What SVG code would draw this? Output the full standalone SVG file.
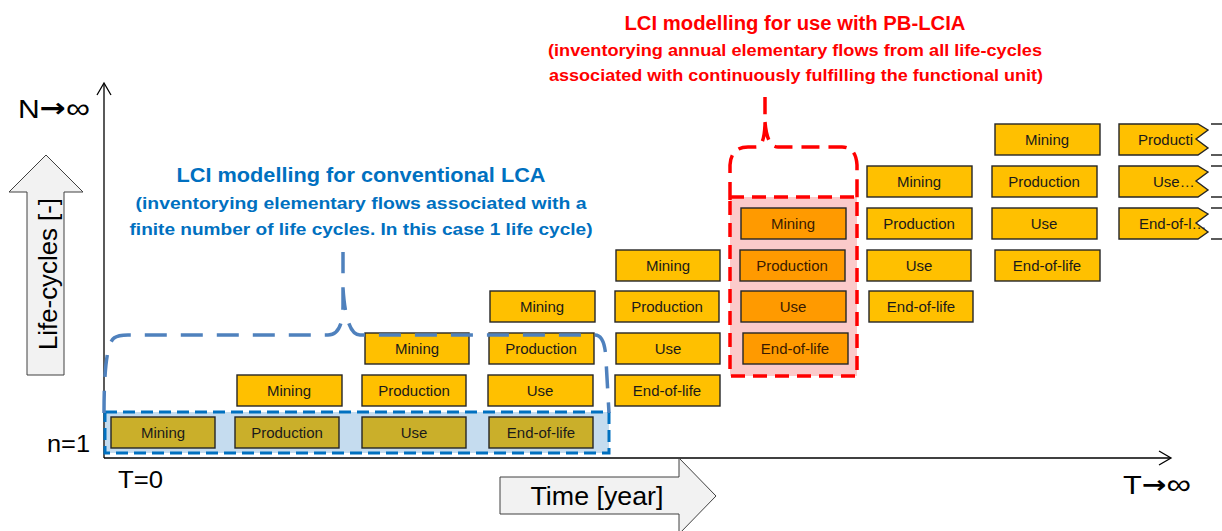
<svg xmlns="http://www.w3.org/2000/svg" width="1222" height="531" viewBox="0 0 1222 531">
<style>
.bx rect,.bx path{stroke:#262626;stroke-width:1.4}
.y{fill:#FFC000}
.o{fill:#CAAF2A}
.r{fill:#FF9A00}
.lb{font-family:"Liberation Sans",Arial,sans-serif;font-size:15px;fill:#1a1a1a;text-anchor:middle}
.lr{font-family:"Liberation Sans",Arial,sans-serif;font-size:15px;fill:#3a1a00;text-anchor:middle}
.ax{font-family:"Liberation Sans",Arial,sans-serif;fill:#000}
.arw{font-family:"DejaVu Sans",sans-serif;font-weight:bold}
.tb{font-family:"Liberation Sans",Arial,sans-serif;font-weight:bold;fill:#0070C0;text-anchor:middle}
.tr{font-family:"Liberation Sans",Arial,sans-serif;font-weight:bold;fill:#FF0000;text-anchor:middle}
.stub{stroke:#262626;stroke-width:1.4}
</style>
<rect width="1222" height="531" fill="#fff"/>

<!-- highlight backgrounds -->
<g id="blue-region">
<rect x="105" y="412" width="504" height="41" fill="#C5DCEF"/>
</g>
<g id="red-region">
<rect x="730" y="197" width="127" height="179" fill="#FBCACA"/>
</g>

<!-- axes -->
<g id="axes" fill="none" stroke="#000" stroke-width="1.3">
<path d="M104,458 V84"/>
<path d="M97,95 L104,83 L111,95"/>
<path d="M104,458 H1170"/>
<path d="M1159,451 L1171,458 L1159,465"/>
</g>

<!-- axis arrows -->
<g id="life-cycles-arrow">
<path d="M46,155 L83,192 H64 V375 H27 V192 H9 Z" fill="#F2F2F2" stroke="#404040" stroke-width="1"/>
<text class="ax" x="0" y="0" font-size="25" text-anchor="middle" transform="translate(57,274) rotate(-90)" textLength="152" lengthAdjust="spacingAndGlyphs">Life-cycles [-]</text>
</g>
<g id="time-arrow">
<path d="M500,477 H679 V458 L716,496 L679,534 V514 H500 Z" fill="#F2F2F2" stroke="#404040" stroke-width="1"/>
<text class="ax" x="597" y="505" font-size="25" text-anchor="middle" textLength="133" lengthAdjust="spacingAndGlyphs">Time [year]</text>
</g>

<g id="axis-labels">
<text class="ax" x="18" y="118" font-size="25" textLength="72" lengthAdjust="spacingAndGlyphs">N<tspan class="arw" font-size="26" dy="-1">→</tspan><tspan dy="1" font-size="28">∞</tspan></text>
<text class="ax" x="47" y="452" font-size="23" textLength="43" lengthAdjust="spacingAndGlyphs">n=1</text>
<text class="ax" x="118" y="488" font-size="23" textLength="45" lengthAdjust="spacingAndGlyphs">T=0</text>
<text class="ax" x="1123" y="494" font-size="25" textLength="68" lengthAdjust="spacingAndGlyphs">T<tspan class="arw" font-size="24" dy="-1">→</tspan><tspan dy="1" font-size="28">∞</tspan></text>
</g>

<!-- lifecycle 1 (olive) -->
<g id="lc1-mining" class="bx"><rect class="o" x="111" y="417" width="104" height="31"/><text class="lb" x="163" y="438">Mining</text></g>
<g id="lc1-production" class="bx"><rect class="o" x="235" y="417" width="104" height="31"/><text class="lb" x="287" y="438">Production</text></g>
<g id="lc1-use" class="bx"><rect class="o" x="362" y="417" width="104" height="31"/><text class="lb" x="414" y="438">Use</text></g>
<g id="lc1-eol" class="bx"><rect class="o" x="489" y="417" width="104" height="31"/><text class="lb" x="541" y="438">End-of-life</text></g>

<!-- lifecycle 2 -->
<g id="lc2-mining" class="bx"><rect class="y" x="237" y="375" width="105" height="31"/><text class="lb" x="289" y="396">Mining</text></g>
<g id="lc2-production" class="bx"><rect class="y" x="362" y="375" width="104" height="31"/><text class="lb" x="414" y="396">Production</text></g>
<g id="lc2-use" class="bx"><rect class="y" x="488" y="375" width="105" height="31"/><text class="lb" x="540" y="396">Use</text></g>
<g id="lc2-eol" class="bx"><rect class="y" x="615" y="375" width="105" height="31"/><text class="lb" x="667" y="396">End-of-life</text></g>

<!-- lifecycle 3 -->
<g id="lc3-mining" class="bx"><rect class="y" x="365" y="333" width="104" height="31"/><text class="lb" x="417" y="354">Mining</text></g>
<g id="lc3-production" class="bx"><rect class="y" x="489" y="333" width="105" height="31"/><text class="lb" x="541" y="354">Production</text></g>
<g id="lc3-use" class="bx"><rect class="y" x="616" y="333" width="104" height="31"/><text class="lb" x="668" y="354">Use</text></g>
<g id="lc3-eol" class="bx"><rect class="r" x="743" y="333" width="105" height="31"/><text class="lr" x="795" y="354">End-of-life</text></g>

<!-- lifecycle 4 -->
<g id="lc4-mining" class="bx"><rect class="y" x="490" y="291" width="105" height="31"/><text class="lb" x="542" y="312">Mining</text></g>
<g id="lc4-production" class="bx"><rect class="y" x="615" y="291" width="104" height="31"/><text class="lb" x="667" y="312">Production</text></g>
<g id="lc4-use" class="bx"><rect class="r" x="741" y="291" width="105" height="31"/><text class="lr" x="793" y="312">Use</text></g>
<g id="lc4-eol" class="bx"><rect class="y" x="869" y="291" width="104" height="31"/><text class="lb" x="921" y="312">End-of-life</text></g>

<!-- lifecycle 5 -->
<g id="lc5-mining" class="bx"><rect class="y" x="616" y="250" width="104" height="31"/><text class="lb" x="668" y="271">Mining</text></g>
<g id="lc5-production" class="bx"><rect class="r" x="740" y="250" width="105" height="31"/><text class="lr" x="792" y="271">Production</text></g>
<g id="lc5-use" class="bx"><rect class="y" x="867" y="250" width="104" height="31"/><text class="lb" x="919" y="271">Use</text></g>
<g id="lc5-eol" class="bx"><rect class="y" x="995" y="250" width="105" height="31"/><text class="lb" x="1047" y="271">End-of-life</text></g>

<!-- lifecycle 6 -->
<g id="lc6-mining" class="bx"><rect class="r" x="741" y="208" width="105" height="31"/><text class="lr" x="793" y="229">Mining</text></g>
<g id="lc6-production" class="bx"><rect class="y" x="867" y="208" width="105" height="31"/><text class="lb" x="919" y="229">Production</text></g>
<g id="lc6-use" class="bx"><rect class="y" x="992" y="208" width="105" height="31"/><text class="lb" x="1044" y="229">Use</text></g>
<g id="lc6-eol" class="bx"><path class="y" d="M1119,208 H1198 L1208,214 L1196,223 L1208,232 L1198,239 H1119 Z"/><text class="lb" x="1139" y="229" style="text-anchor:start">End-of-l…</text></g>

<!-- lifecycle 7 -->
<g id="lc7-mining" class="bx"><rect class="y" x="867" y="166" width="105" height="31"/><text class="lb" x="919" y="187">Mining</text></g>
<g id="lc7-production" class="bx"><rect class="y" x="992" y="166" width="105" height="31"/><text class="lb" x="1044" y="187">Production</text></g>
<g id="lc7-use" class="bx"><path class="y" d="M1119,166 H1198 L1208,172 L1196,181 L1208,190 L1198,197 H1119 Z"/><text class="lb" x="1153" y="187" style="text-anchor:start">Use…</text></g>

<!-- lifecycle 8 -->
<g id="lc8-mining" class="bx"><rect class="y" x="995" y="124" width="105" height="31"/><text class="lb" x="1047" y="145">Mining</text></g>
<g id="lc8-production" class="bx"><path class="y" d="M1119,124 H1198 L1208,130 L1196,139 L1208,148 L1198,155 H1119 Z"/><text class="lb" x="1138" y="145" style="text-anchor:start">Producti</text></g>

<g id="lc9-stubs">
<path class="stub" d="M1211,124 H1222 M1211,155 H1222 M1211,166 H1222 M1211,197 H1222 M1211,208 H1222 M1211,239 H1222"/>
</g>

<!-- connectors / brackets -->
<g id="connectors" fill="none">
<rect x="105" y="412" width="504" height="41" stroke="#0070C0" stroke-width="3" stroke-dasharray="12,6"/>
<path d="M104,413 Q104,345 114,338 Q118,335 128,335 H328 Q343,335 343,305 V252 M343,288 Q346,335 360,335 H595 Q605,335 606,360 L609,413" stroke="#4F81BD" stroke-width="3.5" stroke-dasharray="22,14"/>
<rect x="730" y="197" width="127" height="179" stroke="#FF0000" stroke-width="3.5" stroke-dasharray="14,8"/>
<path d="M730,200 V165 Q731,147 748,147 H756 Q764,147 765,125 V97 M765,122 Q767,147 778,147 H842 Q856,147 857,165 V200" stroke="#FF0000" stroke-width="3.5" stroke-dasharray="18,9"/>
</g>

<!-- titles -->
<g id="blue-title">
<text class="tb" x="361" y="182" font-size="20" textLength="369" lengthAdjust="spacingAndGlyphs">LCI modelling for conventional LCA</text>
<text class="tb" x="361" y="209" font-size="17" textLength="451" lengthAdjust="spacingAndGlyphs">(inventorying elementary flows associated with a</text>
<text class="tb" x="361" y="235" font-size="17" textLength="463" lengthAdjust="spacingAndGlyphs">finite number of life cycles. In this case 1 life cycle)</text>
</g>
<g id="red-title">
<text class="tr" x="795" y="30" font-size="20" textLength="341" lengthAdjust="spacingAndGlyphs">LCI modelling for use with PB-LCIA</text>
<text class="tr" x="795" y="56" font-size="17" textLength="494" lengthAdjust="spacingAndGlyphs">(inventorying annual elementary flows from all life-cycles</text>
<text class="tr" x="796" y="81" font-size="17" textLength="494" lengthAdjust="spacingAndGlyphs">associated with continuously fulfilling the functional unit)</text>
</g>
</svg>
